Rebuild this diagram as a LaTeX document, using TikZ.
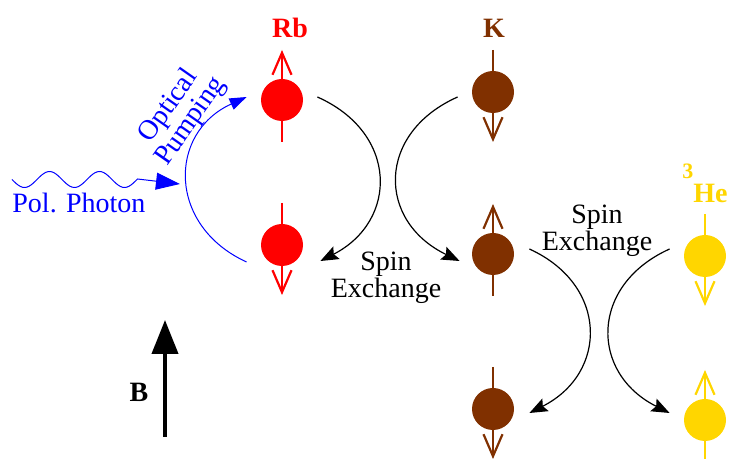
\documentclass[tikz,border=0pt]{standalone}
\usepackage{fontspec}
\setmainfont{Liberation Serif}
\usetikzlibrary{arrows.meta}
\definecolor{rbred}{RGB}{255,0,0}
\definecolor{kbrown}{RGB}{128,48,0}
\definecolor{hegold}{RGB}{255,214,0}
\definecolor{pumpblue}{RGB}{0,0,255}

\begin{document}
\begin{tikzpicture}[x=0.5pt, y=-0.5pt, >=Stealth,
    font=\fontsize{14}{12}\selectfont,
    atom/.style={circle, fill, inner sep=0pt, minimum size=21pt},
    spin/.style={line width=1.2pt, -{Straight Barb[length=11pt,width=9.5pt,line width=1.1pt]}},
    exch/.style={line width=0.6pt, -{Stealth[length=9pt,width=7pt,inset=1.5pt]}},
    lab/.style={font=\fontsize{14}{15}\selectfont\bfseries}]
    \useasboundingbox (0,0) rectangle (729,459);

    % atoms
    \node[atom, rbred] (rb1) at (282,100) {};
    \node[atom, rbred] (rb2) at (282,245) {};
    \node[atom, kbrown] (k1) at (493,92) {};
    \node[atom, kbrown] (k2) at (493,254) {};
    \node[atom, kbrown] (k3) at (493,409) {};
    \node[atom, hegold] (he1) at (705,256) {};
    \node[atom, hegold] (he2) at (705,420) {};

    % spins (-1 up, 1 down)
    \foreach \n/\d/\c in {rb1/-1/rbred, rb2/1/rbred, k1/1/kbrown, k2/-1/kbrown,
                          k3/1/kbrown, he1/1/hegold, he2/-1/hegold}
      \draw[spin, \c] (\n.center) ++(0,{-42*(\d)}) -- ++(0,{92*(\d)});

    % labels
    \node[lab, rbred, anchor=base] (rblab) at (290,38) {Rb};
    \node[lab, kbrown, anchor=base] (klab) at (494,38) {K};
    \node[lab, hegold, anchor=base] (helab) at (705,203) {\raisebox{12pt}{\fontsize{11}{12}\selectfont 3}He};
    \node[lab, anchor=base] (blab) at (139,402) {B};

    \node[pumpblue, anchor=base west, inner sep=0pt] (phlab) at (12,213) {Pol. Photon};
    \node[pumpblue, rotate=55, align=center, inner sep=0pt] (pumplab) at (180,114) {Optical\\Pumping};
    \node[align=center, inner sep=0pt] (ex1) at (386,278) {Spin\\Exchange};
    \node[align=center, inner sep=0pt] (ex2) at (597,231) {Spin\\Exchange};

    % photon
    \coordinate (phend) at (180,184);
    \draw[pumpblue, line width=0.5pt, -{Triangle[length=12pt,width=8.5pt]}]
      plot[domain=12:137.5, samples=60, smooth] (\x,{179.5+8*sin(7.2*(\x-12))}) -- (phend);

    % optical pumping
    \draw[pumpblue, line width=0.5pt, -{Triangle[length=8.5pt,width=6pt]}]
      ([shift={(-14,17)}]rb2.west) .. controls +(-79,-36) and +(-79,36) .. ([shift={(-14,-3)}]rb1.west);

    % spin exchange
    \draw[exch] ([shift={(14,-3)}]rb1.east) .. controls +(81,36) and +(78,-40) .. ([shift={(17,16)}]rb2.east);
    \draw[exch] ([shift={(-14,5)}]k1.west) .. controls +(-81,36) and +(-83,-40) .. ([shift={(-12,7)}]k2.west);
    \draw[exch] ([shift={(15,-5)}]k2.east) .. controls +(79,36) and +(79,-40) .. ([shift={(15,4)}]k3.east);
    \draw[exch] ([shift={(-14,-7)}]he1.west) .. controls +(-80,36) and +(-80,-40) .. ([shift={(-14,-7)}]he2.west);

    % field
    \coordinate (btail) at (165,437);
    \coordinate (bhead) at (165,320);
    \draw[line width=2pt, -{Triangle[length=17pt,width=13pt]}] (btail) -- (bhead);
\end{tikzpicture}
\end{document}
